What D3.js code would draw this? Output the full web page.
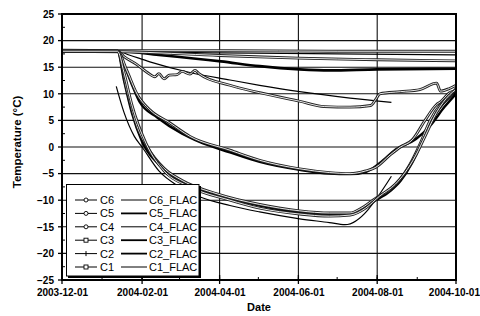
<!doctype html>
<html>
<head>
<meta charset="UTF-8">
<title>temperature</title>
<script src="https://d3js.org/d3.v7.min.js"></script>
<style>
  body { margin:0; background:#fff; }
  text { font-family: "Liberation Sans", Arial, sans-serif; }
</style>
</head>
<body>
<script>
// measured (C) and simulated (FLAC) temperatures, [date, degC]
var C6 = [["2003-12-01",18.2],["2004-01-15",18.1],["2004-04-01",18.1],["2004-07-01",18.0],["2004-10-01",18.0]];
var C6_FLAC = [["2003-12-01",17.9],["2004-01-15",17.9],["2004-04-01",17.7],["2004-07-01",17.5],["2004-10-01",17.3]];
var C5 = [["2003-12-01",18.0],["2004-01-18",17.9],["2004-04-01",17.2],["2004-06-01",16.7],["2004-08-01",16.4],["2004-10-01",16.2]];
var C5_FLAC = [["2003-12-01",18.0],["2004-01-13",18.0],["2004-02-14",17.3],["2004-04-02",16.1],["2004-05-02",15.2],["2004-06-02",14.6],["2004-06-25",14.4],["2004-08-01",14.6],["2004-10-01",14.7]];
var C4 = [["2003-12-01",18.0],["2004-01-13",18.0],["2004-01-18",17.0],["2004-01-28",15.5],["2004-02-05",14.0],["2004-02-11",13.2],["2004-02-14",13.8],["2004-02-18",12.8],["2004-02-22",13.5],["2004-02-28",13.6],["2004-03-03",14.2],["2004-03-09",13.7],["2004-03-13",14.4],["2004-03-16",13.8],["2004-04-09",11.6],["2004-05-02",10.2],["2004-06-02",8.6],["2004-06-21",7.6],["2004-07-11",7.5],["2004-07-27",7.8],["2004-07-31",9.0],["2004-08-03",10.0],["2004-08-19",10.4],["2004-09-03",10.8],["2004-09-16",12.0],["2004-09-19",10.5],["2004-09-26",11.0],["2004-10-01",11.6]];
var C4_FLAC = [["2003-12-01",18.0],["2004-01-13",18.0],["2004-01-22",17.3],["2004-02-07",16.0],["2004-03-09",14.0],["2004-04-09",12.6],["2004-05-02",11.6],["2004-06-02",10.4],["2004-07-11",9.2],["2004-08-12",8.4]];
var C3 = [["2003-12-01",18.0],["2004-01-13",18.0],["2004-01-20",14.5],["2004-01-28",10.0],["2004-02-07",7.0],["2004-02-22",4.6],["2004-03-09",2.0],["2004-04-09",-0.6],["2004-05-02",-2.5],["2004-06-02",-4.1],["2004-06-25",-4.8],["2004-07-11",-5.0],["2004-07-23",-4.5],["2004-07-31",-3.8],["2004-08-11",-1.5],["2004-08-19",0.0],["2004-08-28",1.3],["2004-09-07",5.0],["2004-09-16",8.0],["2004-09-19",8.5],["2004-09-26",10.2],["2004-10-01",10.6]];
var C3_FLAC = [["2003-12-01",18.0],["2004-01-13",18.0],["2004-01-18",15.5],["2004-01-24",11.8],["2004-01-30",8.5],["2004-02-13",5.5],["2004-03-03",2.5],["2004-03-16",1.0],["2004-04-09",-1.0],["2004-05-02",-2.8],["2004-06-02",-4.3],["2004-06-25",-5.0],["2004-07-11",-5.1],["2004-07-23",-4.7],["2004-08-03",-3.0],["2004-08-15",-0.5],["2004-08-31",1.5],["2004-09-11",4.0],["2004-09-22",7.5],["2004-10-01",10.0]];
var C2 = [["2003-12-01",18.0],["2004-01-13",18.0],["2004-01-20",11.0],["2004-01-28",4.0],["2004-02-05",0.0],["2004-02-18",-4.0],["2004-03-03",-6.3],["2004-03-30",-8.8],["2004-05-02",-10.8],["2004-06-02",-12.0],["2004-06-25",-12.4],["2004-07-11",-12.4],["2004-07-19",-11.6],["2004-07-31",-9.6],["2004-08-11",-8.0],["2004-08-19",-6.0],["2004-08-28",-2.5],["2004-09-03",0.5],["2004-09-11",5.0],["2004-09-19",8.0],["2004-09-26",9.5],["2004-10-01",11.0]];
var C2_FLAC = [["2003-12-01",18.0],["2004-01-13",18.0],["2004-01-18",12.5],["2004-01-24",6.5],["2004-02-01",1.0],["2004-02-14",-3.3],["2004-03-03",-6.6],["2004-03-30",-9.0],["2004-05-02",-11.0],["2004-06-02",-12.3],["2004-06-25",-12.6],["2004-07-11",-12.6],["2004-07-19",-12.0],["2004-07-27",-10.6],["2004-08-11",-8.3],["2004-08-19",-6.4],["2004-08-28",-3.0],["2004-09-03",0.0],["2004-09-11",4.5],["2004-09-19",7.5],["2004-10-01",10.5]];
var C1 = [["2003-12-01",18.0],["2004-01-13",18.0],["2004-01-18",14.0],["2004-01-24",8.0],["2004-02-04",0.7],["2004-02-18",-4.5],["2004-03-09",-7.5],["2004-04-09",-10.0],["2004-05-02",-11.5],["2004-06-02",-12.6],["2004-06-25",-13.0],["2004-07-11",-12.8],["2004-07-23",-11.5],["2004-08-03",-9.2],["2004-08-15",-7.0],["2004-08-22",-5.0],["2004-08-31",-1.5],["2004-09-07",2.0],["2004-09-16",6.5],["2004-09-26",9.8],["2004-10-01",10.8]];
var C1_FLAC = [["2004-01-12",11.4],["2004-01-18",6.5],["2004-01-26",2.0],["2004-02-01",0.0],["2004-02-14",-4.5],["2004-03-01",-7.5],["2004-03-16",-9.3],["2004-04-09",-11.0],["2004-05-02",-12.2],["2004-06-02",-13.5],["2004-06-25",-14.2],["2004-07-07",-14.6],["2004-08-12",-5.5]];

var names = ["C6","C5","C4","C3","C2","C1"];
var measured = [C6, C5, C4, C3, C2, C1];
var flac = [C6_FLAC, C5_FLAC, C4_FLAC, C3_FLAC, C2_FLAC, C1_FLAC];
var xTicks = ["2003-12-01","2004-02-01","2004-04-01","2004-06-01","2004-08-01","2004-10-01"];
var yTicks = [25,20,15,10,5,0,-5,-10,-15,-20,-25];

var W = 480, H = 316;
var L = 62, R = 456, T = 14, B = 280;
var parse = d3.utcParse("%Y-%m-%d");
var fmt = d3.utcFormat("%Y-%m-%d");

var svg = d3.select("body").append("svg").attr("width", W).attr("height", H);

var x = d3.scaleUtc().domain([parse(xTicks[0]), parse(xTicks[xTicks.length-1])]).range([L, R]);
var y = d3.scaleLinear().domain([-25, 25]).range([B, T]);

// grid
svg.append("g").selectAll("line").data(yTicks.slice(1, -1)).enter().append("line")
    .attr("x1", L).attr("x2", R).attr("y1", function(d){ return y(d); }).attr("y2", function(d){ return y(d); })
    .attr("stroke", "#111").attr("stroke-width", 1.1);
svg.append("g").selectAll("line").data(xTicks.slice(1, -1)).enter().append("line")
    .attr("x1", function(d){ return x(parse(d)); }).attr("x2", function(d){ return x(parse(d)); })
    .attr("y1", T).attr("y2", B).attr("stroke", "#111").attr("stroke-width", 1.1);

// minor ticks
var months = d3.utcMonth.range(parse(xTicks[0]), parse(xTicks[xTicks.length-1]));
svg.append("g").selectAll("line").data(months).enter().append("line")
    .attr("x1", function(d){ return x(d); }).attr("x2", function(d){ return x(d); })
    .attr("y1", B).attr("y2", B - 3).attr("stroke", "#000").attr("stroke-width", 1);
svg.append("g").selectAll("line").data(d3.range(-22.5, 25, 5)).enter().append("line")
    .attr("x1", L).attr("x2", L + 3).attr("y1", function(d){ return y(d); }).attr("y2", function(d){ return y(d); })
    .attr("stroke", "#000").attr("stroke-width", 1);
// major ticks
svg.append("g").selectAll("line").data(xTicks).enter().append("line")
    .attr("x1", function(d){ return x(parse(d)); }).attr("x2", function(d){ return x(parse(d)); })
    .attr("y1", B - 5).attr("y2", B + 4).attr("stroke", "#000").attr("stroke-width", 1.3);
svg.append("g").selectAll("line").data(yTicks).enter().append("line")
    .attr("x1", L - 4).attr("x2", L).attr("y1", function(d){ return y(d); }).attr("y2", function(d){ return y(d); })
    .attr("stroke", "#000").attr("stroke-width", 1.3);

// axes labels via d3 axes
var xAxis = svg.append("g").attr("transform", "translate(0," + B + ")")
    .call(d3.axisBottom(x).tickValues(xTicks.map(parse)).tickFormat(fmt).tickSize(0).tickPadding(9));
var yAxis = svg.append("g").attr("transform", "translate(" + L + ",0)")
    .call(d3.axisLeft(y).tickValues(yTicks).tickSize(0).tickPadding(8));
[xAxis, yAxis].forEach(function(a){
    a.select(".domain").remove();
    a.selectAll("text").attr("font-family", "Liberation Sans, Arial, sans-serif")
        .attr("font-size", 10).attr("font-weight", "bold").attr("fill", "#000");
});
// last date label sits at the window edge, keep it inside
xAxis.selectAll(".tick:last-of-type text").attr("text-anchor", "end").attr("x", 23.5);

// series
var line = d3.line()
    .x(function(d){ return x(parse(d[0])); })
    .y(function(d){ return y(d[1]); })
    .curve(d3.curveMonotoneX);

var flacWidth = [1.2, 2.6, 1.2, 2.4, 2.4, 1.2];
var plot = svg.append("g");
flac.forEach(function(s, i){
    plot.append("path").attr("d", line(s)).attr("fill", "none")
        .attr("stroke", "#000").attr("stroke-width", flacWidth[i]);
});
measured.forEach(function(s){
    plot.append("path").attr("d", line(s)).attr("fill", "none")
        .attr("stroke", "#222").attr("stroke-width", 2.8);
    plot.append("path").attr("d", line(s)).attr("fill", "none")
        .attr("stroke", "#fff").attr("stroke-width", 0.9);
});

// frame
svg.append("rect").attr("x", L).attr("y", T).attr("width", R - L).attr("height", B - T)
    .attr("fill", "none").attr("stroke", "#000").attr("stroke-width", 2);

// legend
var lg = svg.append("g");
lg.append("rect").attr("x", 68).attr("y", 186).attr("width", 133).attr("height", 92).attr("fill", "#000");
lg.append("rect").attr("x", 66.5).attr("y", 184.5).attr("width", 132.5).attr("height", 91.5)
    .attr("fill", "#fff").attr("stroke", "#000").attr("stroke-width", 1);
var markers = ["circle", "circle", "circle", "square", "cross", "square"];
names.forEach(function(n, i){
    var ry = 200 + i * 13.4;
    lg.append("line").attr("x1", 75).attr("x2", 97).attr("y1", ry).attr("y2", ry)
        .attr("stroke", "#000").attr("stroke-width", 1);
    if (markers[i] === "square") {
        lg.append("rect").attr("x", 84).attr("y", ry - 2).attr("width", 4).attr("height", 4)
            .attr("fill", "#fff").attr("stroke", "#000").attr("stroke-width", 0.9);
    } else if (markers[i] === "cross") {
        lg.append("line").attr("x1", 86).attr("x2", 86).attr("y1", ry - 2.5).attr("y2", ry + 2.5)
            .attr("stroke", "#000").attr("stroke-width", 1);
    } else {
        lg.append("circle").attr("cx", 86).attr("cy", ry).attr("r", 2)
            .attr("fill", "#fff").attr("stroke", "#000").attr("stroke-width", 0.9);
    }
    lg.append("text").attr("x", 100).attr("y", ry + 4).attr("font-size", 11).text(n);
    lg.append("line").attr("x1", 121).attr("x2", 147).attr("y1", ry).attr("y2", ry)
        .attr("stroke", "#000").attr("stroke-width", flacWidth[i] > 2 ? 1.8 : 1);
    lg.append("text").attr("x", 149).attr("y", ry + 4).attr("font-size", 11).text(n + "_FLAC");
});

// titles
svg.append("text").attr("x", (L + R) / 2 + 0).attr("y", 311).attr("text-anchor", "middle")
    .attr("font-size", 11).attr("font-weight", "bold").text("Date");
svg.append("text").attr("transform", "translate(21,142) rotate(-90)").attr("text-anchor", "middle")
    .attr("font-size", 11.5).attr("font-weight", "bold").text("Temperature (\u00B0C)");
</script>
</body>
</html>
